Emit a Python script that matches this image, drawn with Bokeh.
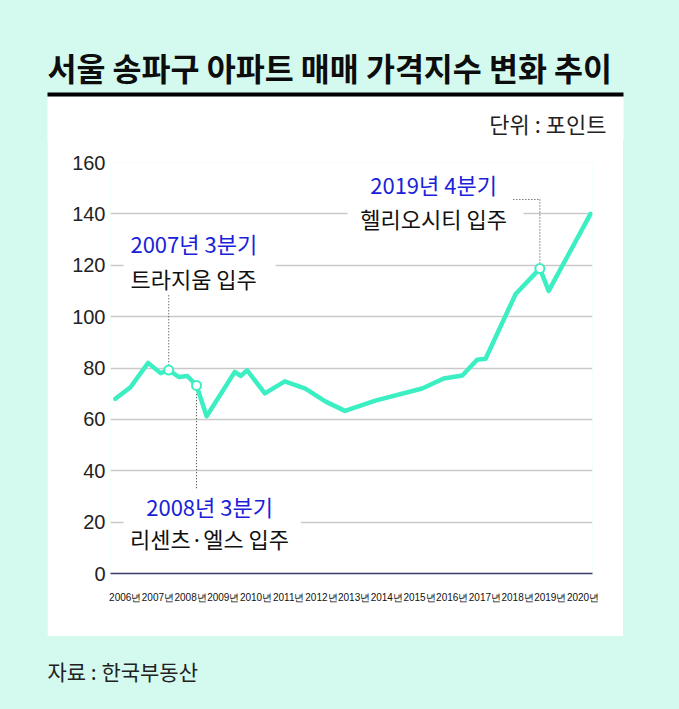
from bokeh.plotting import figure
from bokeh.layouts import column
from bokeh.models import Range1d, FixedTicker, Label, BoxAnnotation, GlobalInlineStyleSheet
from bokeh.embed import file_html
from bokeh.resources import INLINE

TITLE = "서울 송파구 아파트 매매 가격지수 변화 추이"
UNIT = "단위 : 포인트"
SOURCE = "자료 : 한국부동산"

# time position (fractional year) and price index values
t = [2005.70, 2006.16, 2006.70, 2007.08, 2007.33, 2007.64, 2007.90, 2008.18, 2008.49,
     2009.35, 2009.53, 2009.73, 2010.27, 2010.88, 2011.51, 2012.13, 2012.72, 2013.65,
     2015.08, 2015.74, 2016.31, 2016.76, 2017.02, 2017.94, 2018.68, 2018.95, 2020.23]
v = [68.0, 72.5, 82.0, 78.0, 79.2, 76.5, 76.9, 73.2, 61.2,
     78.5, 76.9, 79.1, 70.1, 74.8, 72.0, 66.9, 63.3, 67.3,
     72.0, 75.9, 77.1, 83.2, 83.6, 108.8, 118.7, 110.0, 140.0]

years = list(range(2006, 2021))
year_labels = [f"{y}년" for y in years]
y_ticks = [0, 20, 40, 60, 80, 100, 120, 140, 160]

highlight_idx = [4, 7, 24]
ann_when = ["2007년 3분기", "2008년 3분기", "2019년 4분기"]
ann_what = ["트라지움 입주", "리센츠·엘스 입주", "헬리오시티 입주"]

MINT = "#d4faf0"
TEAL = "#3cefc2"
BLUE = "#1a22d9"
KR = "Noto Sans CJK KR"
NUM = "Liberation Sans"


def deco_fig(w, h):
    f = figure(width=w, height=h, x_range=Range1d(0, w), y_range=Range1d(h, 0),
               output_backend="svg", toolbar_location=None, x_axis_location=None, y_axis_location=None,
               min_border=0, min_border_left=0, min_border_right=0, min_border_top=0, min_border_bottom=0,
               border_fill_color=MINT, background_fill_color=MINT, outline_line_color=None,
               frame_align=False)
    f.grid.visible = False
    return f


# ---- top band: title, black rule, unit
top = deco_fig(679, 140)
top.add_layout(BoxAnnotation(left=47, right=623, top=96, bottom=150, fill_color="white",
                             fill_alpha=1, line_color=None))
top.add_layout(BoxAnnotation(left=47, right=623, top=92, bottom=96, fill_color="black",
                             fill_alpha=1, line_color=None))
top.add_layout(Label(x=47, y=66, text=TITLE, text_font=KR, text_font_size="31.5px",
                     text_font_style="bold", text_color="#0d0d0d", text_baseline="middle", text_align="left"))
top.add_layout(Label(x=606, y=122, text=UNIT, text_font=KR, text_font_size="22px",
                     text_color="#222222", text_baseline="middle", text_align="right"))

# ---- main chart (overlaps the top band by 2px to hide the seam)
p = figure(width=576, height=498, x_range=Range1d(2005.55, 2020.29), y_range=Range1d(0, 160),
           output_backend="svg", toolbar_location=None,
           min_border_left=63, min_border_right=31, min_border_top=24, min_border_bottom=63,
           border_fill_color="white", background_fill_color="white", outline_line_color=None,
           margin=(-2, 0, 0, 47), frame_align=False)

p.xaxis.ticker = FixedTicker(ticks=years)
p.xaxis.major_label_overrides = {y: lab for y, lab in zip(years, year_labels)}
p.xaxis.axis_line_color = "#3b3b6b"
p.xaxis.axis_line_width = 1.5
p.xaxis.major_tick_line_color = None
p.xaxis.minor_tick_line_color = None
p.xaxis.major_tick_out = 0
p.xaxis.major_label_standoff = 18
p.xaxis.major_label_text_font = NUM
p.xaxis.major_label_text_font_size = "10px"
p.xaxis.major_label_text_color = "#111111"

p.yaxis.ticker = FixedTicker(ticks=y_ticks)
p.yaxis.axis_line_color = None
p.yaxis.major_tick_line_color = None
p.yaxis.minor_tick_line_color = None
p.yaxis.major_tick_out = 0
p.yaxis.major_label_standoff = 5
p.yaxis.major_label_text_font = NUM
p.yaxis.major_label_text_font_size = "20px"
p.yaxis.major_label_text_color = "#222222"

p.xgrid.visible = False
p.ygrid.grid_line_color = "#c9c9c9"
p.ygrid.grid_line_width = 1.3

# white boxes behind annotation texts (data coords)
boxes = [(2005.95, 2010.60, 134.4, 108.3), (2005.95, 2011.37, 32.4, 6.7), (2012.80, 2018.18, 156.9, 131.7)]
for l, r, tp, bt in boxes:
    p.add_layout(BoxAnnotation(left=l, right=r, top=tp, bottom=bt, fill_color="white",
                               fill_alpha=1, line_color=None, level="underlay"))

hx = [t[i] for i in highlight_idx]
hy = [v[i] for i in highlight_idx]

# dotted leader lines
p.segment(x0=[hx[0], hx[1], hx[2], 2017.87], y0=[108.3, 33.2, 145.6, 145.6],
          x1=[hx[0], hx[1], hx[2], hx[2]], y1=[hy[0], hy[1], hy[2], 145.6],
          line_color="#333333", line_width=1, line_dash="1 2")

p.line(t, v, line_color=TEAL, line_width=4.5, line_join="round", line_cap="round")
p.scatter(hx, hy, size=9, fill_color="white", line_color=TEAL, line_width=2)

ann_pos = [(2006.16, 128.6, 115.1, "left"), (2008.58, 26.2, 13.7, "center"), (2015.43, 151.6, 138.5, "center")]
for (x, yb, yk, al), w, what in zip(ann_pos, ann_when, ann_what):
    p.add_layout(Label(x=x, y=yb, text=w, text_font=KR, text_font_size="22px", text_color=BLUE,
                       text_align=al, text_baseline="middle"))
    p.add_layout(Label(x=x, y=yk, text=what, text_font=KR, text_font_size="22px", text_color="#111111",
                       text_align=al, text_baseline="middle"))

# ---- bottom band: source
bottom = deco_fig(679, 73)
bottom.add_layout(Label(x=47, y=34, text=SOURCE, text_font=KR, text_font_size="21px",
                        text_color="#222222", text_baseline="middle", text_align="left"))

page = column(top, p, bottom, spacing=0)
page.stylesheets = [GlobalInlineStyleSheet(css="body { background: %s; }" % MINT)]

open("out.html", "w").write(file_html(page, INLINE))
